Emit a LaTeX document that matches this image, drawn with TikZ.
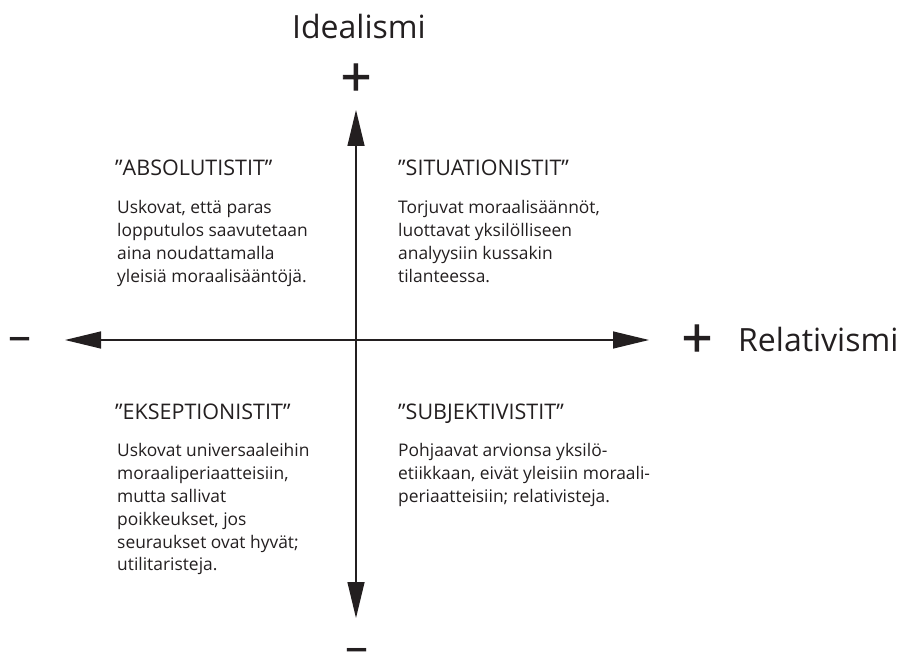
\documentclass[tikz,border=0pt]{standalone}
\usepackage{fontspec}
\setmainfont{Open Sans}
\newfontfamily\signfont[FakeBold=1.6]{Open Sans}
\usetikzlibrary{arrows.meta}
\definecolor{ink}{HTML}{231F20}
\newcommand{\qblock}[1]{\vtop{#1}}
\begin{document}
\begin{tikzpicture}[x=1pt,y=-1pt,
  every node/.style={inner sep=0pt, text=ink},
  axis/.style={line width=1.3pt, draw=ink,
    {Triangle[length=36pt,width=17pt]}-{Triangle[length=36pt,width=17pt]}},
  head/.style={anchor=base west, font=\fontsize{21.5}{23}\selectfont},
  body/.style={anchor=base west, font=\fontsize{17.4}{23}\selectfont},
  axlabel/.style={font=\fontsize{32}{36}\selectfont},
  plussign/.style={font=\signfont\fontsize{54}{54}\selectfont},
  minussign/.style={font=\fontsize{46}{46}\selectfont}]
\fill[white] (0,0) rectangle (903,655);
\useasboundingbox (0,0) rectangle (903,655);

\coordinate (top) at (356,110);
\coordinate (bot) at (356,618);
\coordinate (lft) at (65,340);
\coordinate (rgt) at (649,340);
\draw[axis] (bot) -- (top);
\draw[axis] (lft) -- (rgt);

\node[axlabel, anchor=base] (ideal) at (359,39) {Idealismi};
\node[axlabel, anchor=base west] (rel) at (738,352) {Relativismi};
\node[plussign] (ptop) at (356,80) {+};
\node[plussign] (prgt) at (697,341) {+};
\node[minussign] (mlft) at (20,344) {–};
\node[minussign] (mbot) at (357,655) {–};

\node[head] (h1) at (115,176) {”ABSOLUTISTIT”};
\node[head] (h2) at (398,176) {”SITUATIONISTIT”};
\node[head] (h3) at (115,419) {”EKSEPTIONISTIT”};
\node[head] (h4) at (398,419) {”SUBJEKTIVISTIT”};

\node[body] (b1) at (117,214) {\qblock{\hbox{Uskovat, että paras}\hbox{lopputulos saavutetaan}\hbox{aina noudattamalla}\hbox{yleisiä moraalisääntöjä.}}};
\node[body] (b2) at (398,214) {\qblock{\hbox{Torjuvat moraalisäännöt,}\hbox{luottavat yksilölliseen}\hbox{analyysiin kussakin}\hbox{tilanteessa.}}};
\node[body] (b3) at (117,456) {\qblock{\hbox{Uskovat universaaleihin}\hbox{moraaliperiaatteisiin,}\hbox{mutta sallivat}\hbox{poikkeukset, jos}\hbox{seuraukset ovat hyvät;}\hbox{utilitaristeja.}}};
\node[body] (b4) at (398,456) {\qblock{\hbox{Pohjaavat arvionsa yksilö-}\hbox{etiikkaan, eivät yleisiin moraali-}\hbox{periaatteisiin; relativisteja.}}};
\end{tikzpicture}
\end{document}
